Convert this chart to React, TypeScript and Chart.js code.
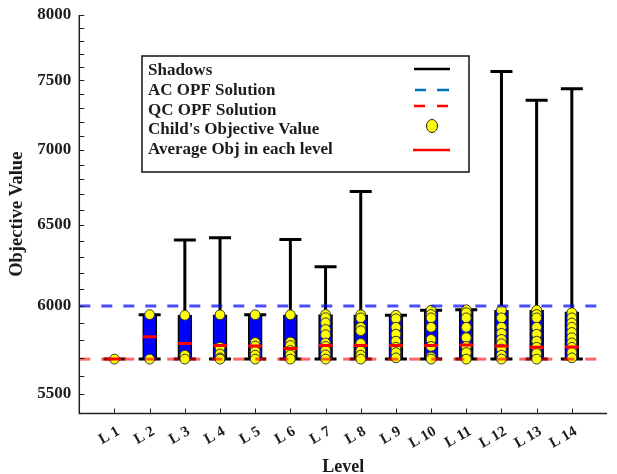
import { useEffect, useRef } from 'react';
import { Chart, registerables } from 'chart.js';

Chart.register(...registerables);

// Level tick labels and their positions on the x axis
const tickLabels = ['L 1', 'L 2', 'L 3', 'L 4', 'L 5', 'L 6', 'L 7', 'L 8', 'L 9', 'L 10', 'L 11', 'L 12', 'L 13', 'L 14'];
const levelPos = [1, 2, 3, 4, 5, 6, 7, 8, 9, 10, 11, 12, 13, 14];

// Reference solutions
const acOpfValue = 6000;
const qcOpfValue = 5693;

// Box (min..max of children) per level
const boxLow = [5693, 5693, 5693, 5693, 5693, 5693, 5693, 5693, 5693, 5693, 5693, 5693, 5693, 5693];
const boxHigh = [5693, 5949, 5945, 5948, 5948, 5948, 5950, 5948, 5945, 5975, 5978, 5975, 5975, 5965];

// Shadow (whisker) top per level
const shadowHigh = [5693, 5949, 6405, 6418, 5948, 6408, 6237, 6719, 5945, 5975, 5978, 7566, 7353, 7438];

// Average objective per level
const levelAverage = [5693, 5820, 5782, 5770, 5767, 5753, 5770, 5770, 5770, 5770, 5773, 5767, 5760, 5762];

// Children objective values per level
const childrenL1 = [5693];
const childrenL2 = [5949, 5693];
const childrenL3 = [5945, 5715, 5693];
const childrenL4 = [5948, 5760, 5722, 5700, 5693];
const childrenL5 = [5948, 5787, 5767, 5737, 5715, 5693];
const childrenL6 = [5948, 5790, 5770, 5742, 5717, 5693];
const childrenL7 = [5950, 5931, 5901, 5862, 5832, 5784, 5765, 5742, 5717, 5693];
const childrenL8 = [5948, 5930, 5875, 5855, 5782, 5740, 5715, 5693];
const childrenL9 = [5945, 5925, 5875, 5835, 5795, 5760, 5730, 5700];
const childrenL10 = [5975, 5950, 5930, 5875, 5805, 5765, 5705, 5693];
const childrenL11 = [5978, 5960, 5930, 5875, 5815, 5765, 5730, 5693];
const childrenL12 = [5975, 5930, 5875, 5840, 5805, 5780, 5750, 5715, 5693];
const childrenL13 = [5975, 5950, 5930, 5875, 5835, 5795, 5760, 5725, 5693];
const childrenL14 = [5960, 5930, 5900, 5875, 5845, 5815, 5785, 5760, 5730, 5700];

const childrenByLevel = [
  childrenL1, childrenL2, childrenL3, childrenL4, childrenL5, childrenL6, childrenL7,
  childrenL8, childrenL9, childrenL10, childrenL11, childrenL12, childrenL13, childrenL14,
];

// Legend entries
const legendLabels = ['Shadows', 'AC OPF Solution', 'QC OPF Solution', "Child's Objective Value", 'Average Obj in each level'];

const SERIF = '"Liberation Serif", "Times New Roman", serif';
const INK = '#1c1c1c';

// Whiskers: vertical line from box bottom to shadow top, caps at both ends
const shadowPlugin = {
  id: 'shadows',
  beforeDatasetsDraw(chart: any) {
    const { ctx, scales } = chart;
    const xs = scales.x;
    const ys = scales.y;
    ctx.save();
    ctx.strokeStyle = '#000';
    ctx.lineWidth = 3;
    levelPos.forEach((lv, i) => {
      const x = xs.getPixelForValue(lv);
      const yLo = ys.getPixelForValue(boxLow[i]);
      const yHi = ys.getPixelForValue(shadowHigh[i]);
      ctx.beginPath();
      ctx.moveTo(x, yLo);
      ctx.lineTo(x, yHi);
      ctx.moveTo(x - 11, yHi);
      ctx.lineTo(x + 11, yHi);
      ctx.moveTo(x - 11, yLo);
      ctx.lineTo(x + 11, yLo);
      ctx.stroke();
    });
    ctx.restore();
  },
};

// Axis lines with inward tick marks
const axesPlugin = {
  id: 'inwardAxes',
  afterDraw(chart: any) {
    const { ctx, chartArea, scales } = chart;
    const xs = scales.x;
    const ys = scales.y;
    const left = chartArea.left;
    const bottom = chartArea.bottom;
    ctx.save();
    ctx.strokeStyle = '#222';
    ctx.lineWidth = 1.5;
    ctx.beginPath();
    ctx.moveTo(left, chartArea.top);
    ctx.lineTo(left, bottom);
    ctx.lineTo(chartArea.right, bottom);
    ctx.stroke();
    ctx.lineWidth = 1;
    ctx.beginPath();
    for (let v = 5500; v <= 8000; v += 100) {
      const y = Math.round(ys.getPixelForValue(v)) + 0.5;
      ctx.moveTo(left, y);
      ctx.lineTo(left + 5, y);
    }
    levelPos.forEach((lv) => {
      const x = Math.round(xs.getPixelForValue(lv)) + 0.5;
      ctx.moveTo(x, bottom);
      ctx.lineTo(x, bottom - 5);
    });
    ctx.stroke();
    ctx.restore();
  },
};

// Boxed legend inside the plot
const legendPlugin = {
  id: 'boxLegend',
  afterDraw(chart: any) {
    const { ctx } = chart;
    ctx.save();
    ctx.fillStyle = '#fff';
    ctx.fillRect(142, 56, 327, 116);
    ctx.strokeStyle = '#111';
    ctx.lineWidth = 1.5;
    ctx.strokeRect(142, 56, 327, 116);

    ctx.font = `bold 17px ${SERIF}`;
    ctx.fillStyle = INK;
    ctx.textBaseline = 'middle';
    ctx.textAlign = 'left';
    legendLabels.forEach((t, i) => {
      ctx.fillText(t, 148, 71 + i * 19.6);
    });

    // Shadows
    ctx.lineWidth = 2.5;
    ctx.strokeStyle = '#000';
    ctx.beginPath();
    ctx.moveTo(414, 69);
    ctx.lineTo(450, 69);
    ctx.stroke();
    // AC OPF
    ctx.strokeStyle = '#0072BD';
    ctx.beginPath();
    ctx.moveTo(415, 90);
    ctx.lineTo(426, 90);
    ctx.moveTo(437, 90);
    ctx.lineTo(449, 90);
    ctx.stroke();
    // QC OPF
    ctx.strokeStyle = '#ff0000';
    ctx.beginPath();
    ctx.moveTo(414, 106);
    ctx.lineTo(425, 106);
    ctx.moveTo(437, 106);
    ctx.lineTo(448, 106);
    ctx.stroke();
    // Child marker
    ctx.fillStyle = '#ffff00';
    ctx.strokeStyle = '#222';
    ctx.lineWidth = 1;
    ctx.beginPath();
    ctx.ellipse(432, 126, 5.5, 6.5, 0, 0, Math.PI * 2);
    ctx.fill();
    ctx.stroke();
    // Average
    ctx.strokeStyle = '#ff0000';
    ctx.lineWidth = 2.5;
    ctx.beginPath();
    ctx.moveTo(413, 150);
    ctx.lineTo(450, 150);
    ctx.stroke();
    ctx.restore();
  },
};

export default function App() {
  const canvasRef = useRef<HTMLCanvasElement | null>(null);

  useEffect(() => {
    const canvas = canvasRef.current;
    if (!canvas) return;

    const childPoints: { x: number; y: number }[] = [];
    childrenByLevel.forEach((vals, i) => {
      vals.forEach((v) => childPoints.push({ x: levelPos[i], y: v }));
    });

    const chart = new Chart(canvas, {
      type: 'scatter',
      data: {
        datasets: [
          {
            type: 'line',
            label: 'AC OPF Solution',
            data: [{ x: 0, y: acOpfValue }, { x: 15, y: acOpfValue }],
            borderColor: 'rgba(0,0,255,0.7)',
            borderWidth: 3,
            borderDash: [11, 11],
            pointRadius: 0,
            showLine: true,
            order: 0,
          },
          {
            type: 'line',
            label: 'QC OPF Solution',
            data: [{ x: 0, y: qcOpfValue }, { x: 15, y: qcOpfValue }],
            borderColor: 'rgba(255,0,0,0.6)',
            borderWidth: 3,
            borderDash: [11, 11],
            pointRadius: 0,
            showLine: true,
            order: 0,
          },
          {
            type: 'scatter',
            label: 'Average Obj in each level',
            data: levelPos.map((x, i) => ({ x, y: levelAverage[i] })),
            pointStyle: 'line',
            pointRadius: 7,
            borderColor: '#ff0000',
            borderWidth: 3,
            order: 1,
          },
          {
            type: 'scatter',
            label: "Child's Objective Value",
            data: childPoints,
            pointStyle: 'circle',
            pointRadius: 4.9,
            backgroundColor: '#ffff00',
            borderColor: '#333',
            borderWidth: 1,
            order: 2,
          },
          {
            type: 'bar',
            label: 'Box',
            data: levelPos.map((x, i) => ({ x, y: [boxLow[i], boxHigh[i]] })) as any,
            backgroundColor: '#0000ff',
            borderColor: '#000',
            borderWidth: 1.5,
            borderSkipped: false,
            barThickness: 14,
            order: 3,
          } as any,
        ],
      },
      options: {
        responsive: false,
        animation: false,
        events: [],
        layout: { padding: { top: 15, right: 6, left: 0, bottom: 0 } },
        plugins: {
          legend: { display: false },
          tooltip: { enabled: false },
        },
        scales: {
          x: {
            type: 'linear',
            min: 0,
            max: 15,
            offset: false,
            grid: { display: false },
            border: { display: false },
            afterBuildTicks: (scale: any) => {
              scale.ticks = levelPos.map((v) => ({ value: v }));
            },
            afterFit: (scale: any) => {
              scale.height = 60.5;
            },
            ticks: {
              autoSkip: false,
              minRotation: 30,
              maxRotation: 30,
              padding: 1,
              labelOffset: 4,
              color: INK,
              font: { family: SERIF, size: 15, weight: 'bold' },
              callback: (v: any) => tickLabels[Number(v) - 1] ?? '',
            },
            title: {
              display: true,
              text: 'Level',
              color: INK,
              font: { family: SERIF, size: 18, weight: 'bold' },
              padding: { top: 0, bottom: -4 },
            },
          },
          y: {
            type: 'logarithmic',
            min: 5395,
            max: 8000,
            grid: { display: false },
            border: { display: false },
            afterBuildTicks: (scale: any) => {
              const t: { value: number }[] = [];
              for (let v = 5400; v <= 8000; v += 100) t.push({ value: v });
              scale.ticks = t;
            },
            afterFit: (scale: any) => {
              scale.width = 79.3;
            },
            ticks: {
              autoSkip: false,
              padding: 0,
              color: INK,
              font: { family: SERIF, size: 17, weight: 'bold' },
              callback: (v: any) => (Number(v) % 500 === 0 ? String(v) : ''),
            },
            title: {
              display: true,
              text: 'Objective Value',
              color: INK,
              font: { family: SERIF, size: 18.5, weight: 'bold' },
              padding: { top: 6, bottom: 0 },
            },
          },
        },
      },
      plugins: [shadowPlugin, axesPlugin, legendPlugin],
    } as any);

    return () => chart.destroy();
  }, []);

  return (
    <div style={{ position: 'fixed', left: 0, top: 0, width: 617, height: 474, background: '#fff' }}>
      <canvas ref={canvasRef} width={617} height={474} style={{ display: 'block' }} />
    </div>
  );
}
